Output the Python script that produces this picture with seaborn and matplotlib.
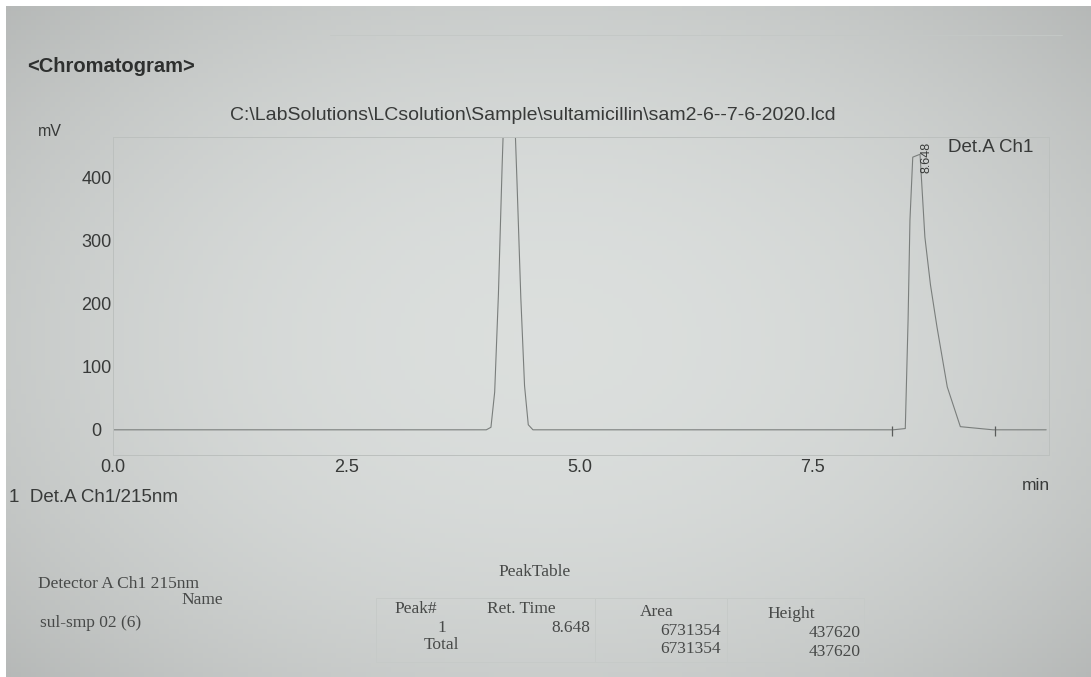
import numpy as np
import seaborn as sns
import matplotlib.pyplot as plt
from matplotlib.patches import Rectangle

# trace (time in min, signal in mV)
time_min = [0.0, 4.00, 4.05, 4.09, 4.13, 4.17, 4.21, 4.25, 4.29, 4.33, 4.37, 4.41,
            4.45, 4.50, 8.36, 8.49, 8.52, 8.54, 8.57, 8.648, 8.70, 8.76, 8.83,
            8.94, 9.08, 9.43, 10.0]
signal_mv = [0, 0, 4, 60, 215, 420, 600, 640, 560, 390, 210, 70,
             8, 0, 0, 2, 175, 333, 433, 437.6, 306, 230, 163,
             68, 5, 0, 0]

y_ticks = [0, 100, 200, 300, 400]
x_ticks = [0.0, 2.5, 5.0, 7.5]

peak_no = ["1"]
ret_time = ["8.648"]
peak_area = ["6731354"]
peak_height = ["437620"]
total_area = "6731354"
total_height = "437620"
peak_bounds = [8.35, 9.45]

sns.set_theme(style="white")
plt.rcParams["font.family"] = ["Liberation Sans", "DejaVu Sans"]

W, H = 1091, 677
fig = plt.figure(figsize=(W / 100, H / 100), dpi=100, facecolor="white")

# paper background, a bit lighter in the middle like the photo
bg = fig.add_axes([0, 0, 1, 1], zorder=-5)
gx, gy = np.meshgrid(np.linspace(-1, 1, 220), np.linspace(-1, 1, 140))
shade = 1 - 0.13 * (0.7 * gx ** 2 + 0.6 * gy ** 2)
paper = np.array([0.86, 0.873, 0.867])
bg.imshow(shade[..., None] * paper, aspect="auto", extent=[6 / W, 1, 0, 1 - 6 / H])
bg.set_xlim(0, 1)
bg.set_ylim(0, 1)
bg.axis("off")


def fx(px):
    return px / W


def fy(py):
    return 1 - py / H


ink = "#383a39"
faint = "#bcc0be"

ax = fig.add_axes([fx(113), fy(455), fx(1049) - fx(113), fy(137) - fy(455)])
ax.patch.set_alpha(0)
sns.lineplot(x=time_min, y=signal_mv, ax=ax, color="#7a7e7c", lw=0.8,
             sort=False, estimator=None)
ax.vlines(peak_bounds, -10, 6, color="#5a5c5b", lw=0.9)
ax.set_xlim(0, 10.03)
ax.set_ylim(-40, 465)
ax.set_xticks(x_ticks)
ax.set_xticklabels([f"{v:.1f}" for v in x_ticks])
ax.set_yticks(y_ticks)
ax.set_yticklabels([str(v) for v in y_ticks])
ax.tick_params(axis="x", length=0, pad=3, labelsize=13, labelcolor=ink)
ax.tick_params(axis="y", length=0, pad=12, labelsize=13, labelcolor=ink)
for lab in ax.get_yticklabels():
    lab.set_horizontalalignment("center")
for sp in ax.spines.values():
    sp.set_color(faint)
    sp.set_linewidth(0.7)
ax.text(8.648 + 0.07, 408, ret_time[0], rotation=90, ha="center", va="bottom",
        fontsize=9, color=ink)

# header texts
fig.add_artist(plt.Line2D([fx(330), fx(1062)], [fy(35), fy(35)], color="#c4c8c6", lw=0.7))
fig.text(fx(27), fy(66), "<Chromatogram>", fontsize=14.5, fontweight="bold",
         color="#2e302f", va="center")
fig.text(fx(533), fy(115),
         r"C:\LabSolutions\LCsolution\Sample\sultamicillin\sam2-6--7-6-2020.lcd",
         fontsize=14, color=ink, ha="center", va="center")
fig.text(fx(38), fy(131), "mV", fontsize=11.5, color=ink, va="center")
fig.text(fx(948), fy(147), "Det.A Ch1", fontsize=13.5, color=ink, va="center")
fig.text(fx(1050), fy(485), "min", fontsize=12.5, color=ink, ha="right", va="center")
fig.text(fx(9), fy(497), "1  Det.A Ch1/215nm", fontsize=13.5, color=ink, va="center")

# peak table
serif = ["Liberation Serif", "DejaVu Serif"]
tink = "#474948"
ts = 12.5


def t(px, py, s, ha="left", size=ts):
    fig.text(fx(px), fy(py), s, family=serif, fontsize=size, color=tink,
             ha=ha, va="center")


t(535, 572, "PeakTable", ha="center")
t(38, 584, "Detector A Ch1 215nm")
t(223, 600, "Name", ha="right")
t(40, 623, "sul-smp 02 (6)")
t(394, 609, "Peak#")
t(487, 609, "Ret. Time")
t(640, 612, "Area")
t(767, 614, "Height")
t(446, 628, peak_no[0], ha="right")
t(590, 628, ret_time[0], ha="right")
t(721, 631, peak_area[0], ha="right")
t(861, 633, peak_height[0], ha="right")
t(459, 645, "Total", ha="right")
t(721, 649, total_area, ha="right")
t(861, 652, total_height, ha="right")

for x0 in [376, 595, 727, 864]:
    fig.add_artist(plt.Line2D([fx(x0), fx(x0)], [fy(598), fy(662)], color="#c6cac8", lw=0.7))
fig.add_artist(Rectangle((fx(376), fy(662)), fx(864) - fx(376), fy(598) - fy(662),
                         fill=False, edgecolor="#c6cac8", lw=0.7))

fig.savefig("out.png", dpi=100, facecolor=fig.get_facecolor())
